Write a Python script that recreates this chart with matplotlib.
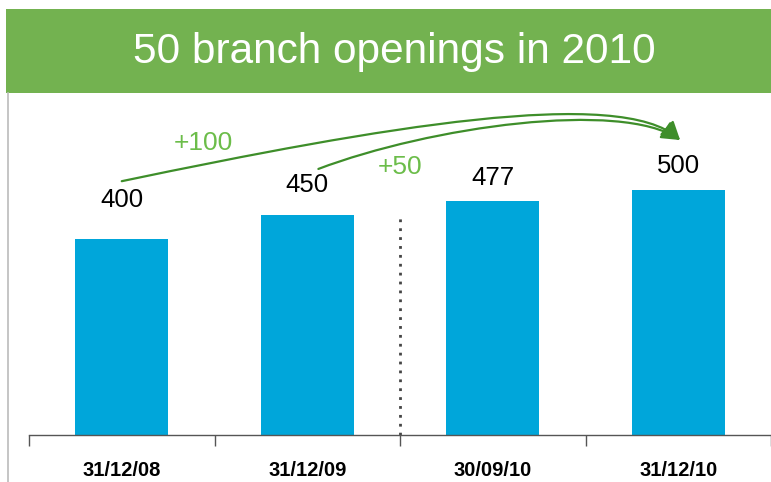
import matplotlib
matplotlib.use("Agg")
import matplotlib.pyplot as plt
from matplotlib.patches import Rectangle, FancyArrowPatch
from matplotlib.path import Path

# data
dates = ["31/12/08", "31/12/09", "30/09/10", "31/12/10"]
branches = [400, 450, 477, 500]
gains = ["+100", "+50"]

bar_color = "#00A6DA"
green = "#73B250"
arrow_green = "#3E8E2A"
text_green = "#6CBD4A"
font = "Liberation Sans"

fig = plt.figure(figsize=(7.71, 4.82), dpi=100)
W, H = 771, 482

# header band
fig.patches.append(Rectangle((6 / W, 1 - 93 / H), 1, 84 / H, transform=fig.transFigure,
                             facecolor=green, edgecolor="none", zorder=0))
fig.lines.append(plt.Line2D([8 / W, 8 / W], [0, 1 - 93 / H], transform=fig.transFigure,
                            color="#BBBBBB", lw=1.2))
fig.text(0.512, 1 - 52 / H, "50 branch openings in 2010", color="white",
         fontsize=30.5, family=font, ha="center", va="center")

ax = fig.add_axes([29 / W, 47 / H, 742 / W, (435 - 93) / H])
x = range(len(dates))
ax.bar(x, branches, width=0.5, color=bar_color, zorder=2)
ax.set_xlim(-0.5, 3.5)
ax.set_ylim(0, 698)

for s in ["top", "right", "left"]:
    ax.spines[s].set_visible(False)
ax.spines["bottom"].set_color("#555555")
ax.spines["bottom"].set_linewidth(1.0)
ax.set_yticks([])
ax.set_xticks([-0.5, 0.5, 1.5, 2.5, 3.5])
ax.set_xticklabels([])
ax.tick_params(axis="x", which="major", direction="out", length=8, color="#555555", width=1)
ax.set_xticks(list(x), minor=True)
ax.set_xticklabels(dates, minor=True, fontsize=14.5, fontweight="bold", family=font)
ax.tick_params(axis="x", which="minor", length=0, pad=19)

# dotted separator
ax.vlines(1.5, 0, 442, colors="#444444", linestyles=(0, (1, 2.2)), lw=2, zorder=1)

# value labels
label_lift = [80, 60, 47, 49]
for i, v in enumerate(branches):
    ax.text(i, v + label_lift[i], str(v), ha="center", va="center", fontsize=18.5,
            family=font)

# curved arrows to last bar
end = (3.01, branches[-1] + 102)
ctrl = [[(1.39, 628), (2.69, 713)], [(1.66, 629), (2.69, 684)]]
starts = [(0, 518), (1.06, 543)]
for k, g in enumerate(gains):
    verts = [starts[k], ctrl[k][0], ctrl[k][1], end]
    path = Path(verts, [Path.MOVETO, Path.CURVE4, Path.CURVE4, Path.CURVE4])
    arr = FancyArrowPatch(path=path, arrowstyle="-|>,head_length=11,head_width=6",
                          color=arrow_green, lw=1.6, clip_on=False, zorder=3)
    ax.add_patch(arr)

ax.text(0.44, 596, gains[0], color=text_green, fontsize=19, ha="center", va="center",
        family=font)
ax.text(1.5, 547, gains[1], color=text_green, fontsize=19, ha="center", va="center",
        family=font)

fig.savefig("out.png", dpi=100)
